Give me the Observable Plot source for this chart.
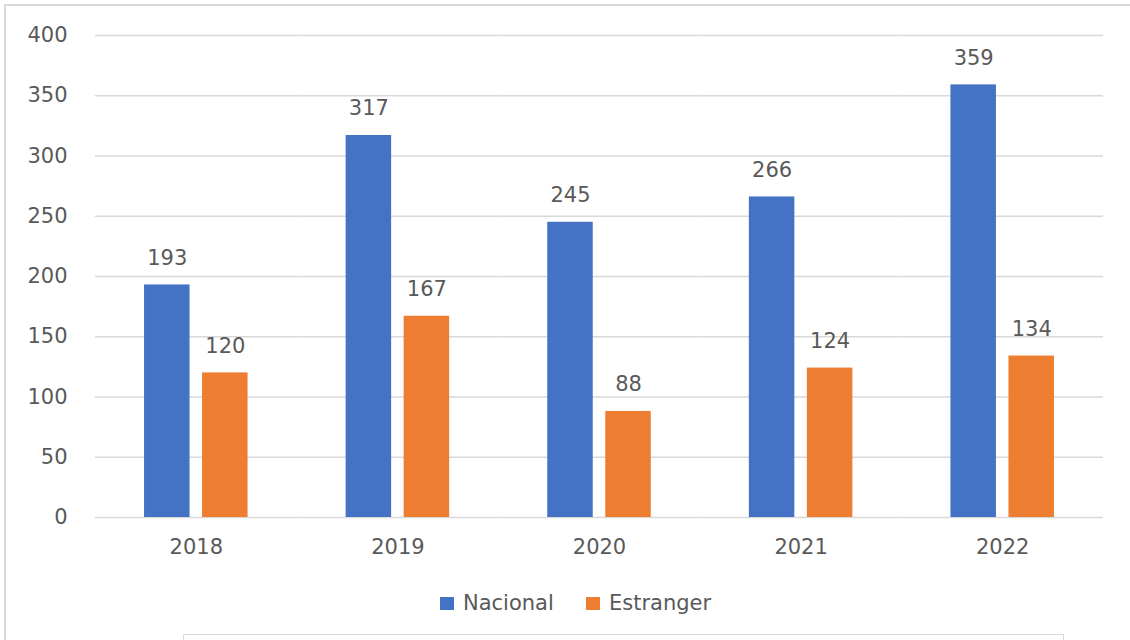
<!DOCTYPE html>
<html>
<head>
<meta charset="utf-8">
<script src="https://cdn.jsdelivr.net/npm/d3@7"></script>
<script src="https://cdn.jsdelivr.net/npm/@observablehq/plot@0.6"></script>
<style>
  html, body { margin: 0; padding: 0; background: #fff; width: 1130px; height: 640px; overflow: hidden; }
  #wrap { position: relative; width: 1130px; height: 640px; }
  #frame { position: absolute; left: 4px; top: 4px; width: 1140px; height: 700px; border: 2px solid #d9d9d9; box-sizing: border-box; }
  #box2 { position: absolute; left: 183px; top: 634px; width: 881px; height: 30px; border: 1px solid #d9d9d9; box-sizing: border-box; }
  #chart { position: absolute; left: 0; top: 0; }
  #legend { position: absolute; left: 0; top: 588px; width: 1130px; height: 30px; font-family: "DejaVu Sans", sans-serif; font-size: 21px; color: #595959; }
  .item { position: absolute; top: 0; height: 30px; display: flex; align-items: center; }
  .sw { width: 14px; height: 13px; margin-right: 9px; }
</style>
</head>
<body>
<div id="wrap">
  <div id="frame"></div>
  <div id="box2"></div>
  <div id="chart"></div>
  <div id="legend"></div>
</div>
<script>
const years = ["2018", "2019", "2020", "2021", "2022"];
const nacional = [193, 317, 245, 266, 359];
const estranger = [120, 167, 88, 124, 134];
const seriesNames = ["Nacional", "Estranger"];
const seriesColors = ["#4472C4", "#ED7D31"];
const yTicks = [0, 50, 100, 150, 200, 250, 300, 350, 400];

const data = years.flatMap((yr, i) => [
  {year: yr, series: seriesNames[0], value: nacional[i]},
  {year: yr, series: seriesNames[1], value: estranger[i]}
]);

const chart = Plot.plot({
  width: 1130,
  height: 585,
  marginLeft: 95,
  marginRight: 27,
  marginTop: 35,
  marginBottom: 68,
  style: {fontFamily: "DejaVu Sans, sans-serif", fontSize: "21px", color: "#595959", background: "transparent"},
  fx: {domain: years, paddingInner: 0, paddingOuter: 0, label: null, round: false},
  x: {domain: seriesNames, paddingInner: 0.216, paddingOuter: 0.845, axis: null, round: false},
  y: {domain: [0, 400]},
  color: {domain: seriesNames, range: seriesColors},
  marks: [
    Plot.ruleY(yTicks, {stroke: "#d9d9d9", strokeWidth: 1.5}),
    Plot.barY(data, {fx: "year", x: "series", y: "value", fill: "series"}),
    Plot.text(data, {fx: "year", x: "series", y: "value", text: d => String(d.value), dy: -27, fill: "#595959"}),
    Plot.axisY({ticks: yTicks, tickSize: 0, tickPadding: 28, label: null, fill: "#595959"}),
    Plot.axisFx({anchor: "bottom", tickSize: 0, tickPadding: 22, label: null, fill: "#595959"})
  ]
});
document.getElementById("chart").appendChild(chart);

const legend = document.getElementById("legend");
const positions = [440, 586];
seriesNames.forEach((name, i) => {
  const item = document.createElement("div");
  item.className = "item";
  item.style.left = positions[i] + "px";
  const sw = document.createElement("div");
  sw.className = "sw";
  sw.style.background = seriesColors[i];
  const label = document.createElement("span");
  label.textContent = name;
  item.appendChild(sw);
  item.appendChild(label);
  legend.appendChild(item);
});
</script>
</body>
</html>
